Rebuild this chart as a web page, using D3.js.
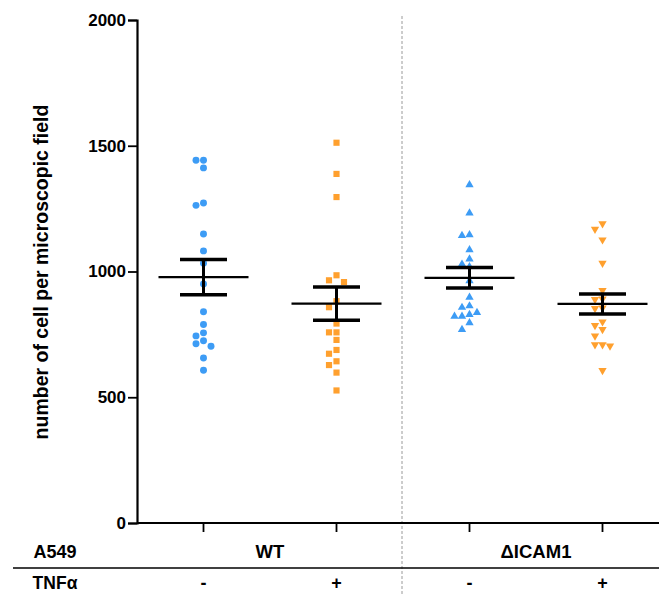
<!DOCTYPE html>
<html>
<head>
<meta charset="utf-8">
<script src="https://cdn.jsdelivr.net/npm/d3@7"></script>
<style>
  body { margin: 0; background: #fff; }
  svg { display: block; }
  text { font-family: "Liberation Sans", Arial, sans-serif; font-weight: bold; fill: #000; }
</style>
</head>
<body>
<svg id="chart" width="659" height="594"></svg>
<script>
// ---- data ----
const groups = ["WT -", "WT +", "ΔICAM1 -", "ΔICAM1 +"];
const genotypeLabels = ["WT", "ΔICAM1"];
const tnfLabels = ["-", "+", "-", "+"];
const yTicks = [0, 500, 1000, 1500, 2000];

const wtMinus = [1442, 1442, 1412, 1272, 1263, 1149, 1082, 1033, 950, 840, 789, 756, 744, 725, 713, 703, 656, 607];
const wtPlus = [1512, 1388, 1296, 985, 965, 958, 882, 858, 793, 758, 758, 728, 688, 673, 643, 628, 598, 527];
const icamMinus = [1345, 1232, 1146, 1143, 1086, 1049, 1029, 1019, 963, 897, 863, 857, 837, 829, 822, 822, 796, 769];
const icamPlus = [1190, 1168, 1126, 1033, 925, 891, 889, 855, 853, 800, 786, 770, 744, 709, 709, 704, 607];

const means = [978, 872, 975, 871];
const sems = [70, 66, 41, 40];

const seriesValues = [wtMinus, wtPlus, icamMinus, icamPlus];
const colors = ["#3d9cf5", "#ffa02e", "#3d9cf5", "#ffa02e"];
const shapes = ["circle", "square", "triangle", "triangleDown"];

// ---- layout ----
const svg = d3.select("#chart");
const x = d3.scaleBand().domain(groups).range([137, 669]).paddingInner(0).paddingOuter(0);
const y = d3.scaleLinear().domain([0, 2000]).range([523, 20]);

// divider dashed line
const divX = x(groups[2]) - 1;
svg.append("line")
  .attr("x1", divX).attr("x2", divX).attr("y1", 16).attr("y2", 594)
  .attr("stroke", "#9a9a9a").attr("stroke-width", 1).attr("stroke-dasharray", "3,2");

// y axis
const yAxis = svg.append("g").attr("transform", "translate(137,0)")
  .call(d3.axisLeft(y).tickValues(yTicks).tickSize(9).tickPadding(2).tickFormat(d3.format("d")));
yAxis.select(".domain").attr("stroke", "#000").attr("stroke-width", 2.2);
yAxis.selectAll(".tick line").attr("stroke", "#000").attr("stroke-width", 1.8);
yAxis.selectAll(".tick text").style("font-size", "17px").style("font-weight", "bold")
  .style("font-family", "'Liberation Sans', Arial, sans-serif").attr("fill", "#000");

// x axis
const xAxis = svg.append("g").attr("transform", "translate(0,523)")
  .call(d3.axisBottom(x).tickSize(9).tickFormat(""));
xAxis.select(".domain").attr("stroke", "#000").attr("stroke-width", 2.2)
  .attr("d", "M137,0H669");
xAxis.selectAll(".tick line").attr("stroke", "#000").attr("stroke-width", 1.8);

// y label
svg.append("text")
  .attr("transform", "translate(48,272) rotate(-90)")
  .attr("text-anchor", "middle")
  .style("font-size", "19.5px")
  .text("number of cell per microscopic field");

// row labels
svg.append("text").attr("x", 55).attr("y", 558).attr("text-anchor", "middle")
  .style("font-size", "18px").text("A549");
svg.append("text").attr("x", 55).attr("y", 589).attr("text-anchor", "middle")
  .style("font-size", "17.5px").text("TNFα");
svg.append("line").attr("x1", 13).attr("x2", 659).attr("y1", 568).attr("y2", 568)
  .attr("stroke", "#000").attr("stroke-width", 1.6);

genotypeLabels.forEach((g, i) => {
  const cx = (x(groups[i * 2]) + x(groups[i * 2 + 1]) + x.bandwidth()) / 2;
  svg.append("text").attr("x", cx).attr("y", 558).attr("text-anchor", "middle")
    .style("font-size", "18.5px").text(g);
});
tnfLabels.forEach((t, i) => {
  svg.append("text").attr("x", x(groups[i]) + x.bandwidth() / 2).attr("y", 589)
    .attr("text-anchor", "middle").style("font-size", "18px").text(t);
});

// symbol generators
function symbolPath(shape) {
  if (shape === "circle") return d3.symbol(d3.symbolCircle, 38)();
  if (shape === "square") return d3.symbol(d3.symbolSquare, 38)();
  return d3.symbol(d3.symbolTriangle, 30)();
}

// dodge layout
const step = 7.5, diam = 7;
seriesValues.forEach((vals, gi) => {
  const cx = x(groups[gi]) + x.bandwidth() / 2;
  const sorted = vals.slice().sort((a, b) => b - a);
  const placed = [];
  sorted.forEach(v => {
    const py = y(v);
    const cands = [0, -1, 1, -2, 2, -3, 3];
    let off = 0;
    for (const c of cands) {
      const px = cx + c * step;
      if (!placed.some(p => Math.abs(p.x - px) < step * 0.9 && Math.abs(p.y - py) < diam)) { off = c; break; }
    }
    placed.push({ x: cx + off * step, y: py });
  });
  const g = svg.append("g");
  g.selectAll("path").data(placed).join("path")
    .attr("d", symbolPath(shapes[gi]))
    .attr("transform", d => `translate(${d.x},${d.y})` + (shapes[gi] === "triangleDown" ? " rotate(180)" : ""))
    .attr("fill", colors[gi]);
});

// mean ± SEM
groups.forEach((gname, gi) => {
  const cx = x(gname) + x.bandwidth() / 2;
  const m = means[gi], s = sems[gi];
  const g = svg.append("g").attr("stroke", "#000");
  g.append("line").attr("x1", cx - 45).attr("x2", cx + 45).attr("y1", y(m)).attr("y2", y(m)).attr("stroke-width", 2.2);
  g.append("line").attr("x1", cx).attr("x2", cx).attr("y1", y(m + s)).attr("y2", y(m - s)).attr("stroke-width", 3);
  g.append("line").attr("x1", cx - 23.5).attr("x2", cx + 23.5).attr("y1", y(m + s)).attr("y2", y(m + s)).attr("stroke-width", 3.5);
  g.append("line").attr("x1", cx - 23.5).attr("x2", cx + 23.5).attr("y1", y(m - s)).attr("y2", y(m - s)).attr("stroke-width", 3.5);
});
</script>
</body>
</html>
